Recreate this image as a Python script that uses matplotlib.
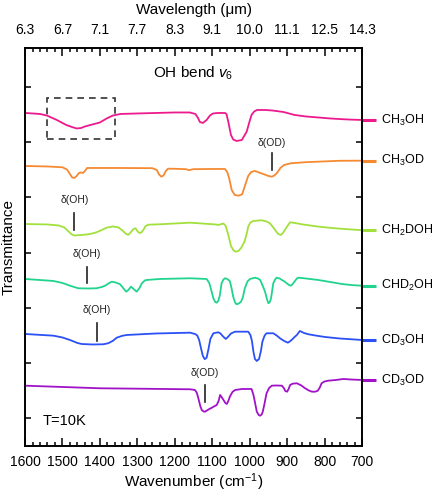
#!/usr/bin/env python3
"""
Methanol isotopologue IR spectra at 10 K, OH bend region.
Stacked transmittance traces, wavenumber on the bottom, wavelength on top.
"""

import numpy as np
import matplotlib
matplotlib.use("Agg")
import matplotlib.pyplot as plt
import matplotlib.transforms as mtransforms
from matplotlib.patches import Rectangle

# === STYLE ===
plt.rcParams["font.family"] = ["Liberation Sans", "DejaVu Sans"]
plt.rcParams["mathtext.fontset"] = "custom"
plt.rcParams["mathtext.rm"] = "Liberation Sans"
plt.rcParams["mathtext.it"] = "Liberation Sans:italic"

# === DATA (transmittance in arbitrary units, traces already offset) ===
ch3oh_wn = [1600, 1560, 1542, 1515, 1490, 1475, 1462, 1450, 1440, 1420, 1400, 1382,
            1365, 1345, 1300, 1250, 1200, 1160, 1145, 1138, 1133, 1125, 1115, 1106,
            1098, 1085, 1066, 1062, 1057, 1050, 1044, 1035, 1021, 1008, 1000, 995,
            988, 980, 960, 940, 910, 880, 850, 817, 785, 754, 725, 700]
ch3oh_t = [333, 332, 330.5, 326, 321, 319, 317.5, 318, 319.5, 321.5, 323.5, 327.5,
           330.5, 332, 332.5, 333, 333.5, 333.5, 332, 328, 324, 323, 326, 330.5,
           332.5, 333, 333, 332, 324, 311, 306.5, 305, 306, 314.3, 325, 331,
           334.5, 336, 336, 335.5, 334, 331, 329.5, 328.5, 327.5, 326.8, 326.3, 326]

ch3od_wn = [1600, 1540, 1500, 1488, 1480, 1474, 1468, 1462, 1456, 1450, 1445, 1440,
            1434, 1420, 1350, 1260, 1248, 1242, 1236, 1230, 1224, 1218, 1200, 1170,
            1162, 1157, 1150, 1100, 1066, 1060, 1055, 1048, 1040, 1030, 1020, 1012,
            1004, 996, 986, 975, 964, 950, 941, 934, 926, 918, 908, 890, 850, 817,
            760, 700]
ch3od_t = [280, 279.5, 278.7, 276.5, 272, 268.5, 268, 270, 273, 273.5, 273, 275,
           278, 278, 278, 277.8, 276, 271.5, 269.3, 270.5, 275, 277.3, 277.2, 276.8,
           275.8, 276.3, 276.8, 277, 277, 274, 268, 256, 251, 250.3, 251.7, 261,
           270, 274, 275, 273.5, 272, 270, 269.3, 270.5, 273.5, 278, 281, 282.7,
           283.8, 284.3, 285.2, 285.3]

ch2doh_wn = [1600, 1540, 1510, 1495, 1485, 1475, 1468, 1450, 1435, 1420, 1409, 1395,
             1382, 1365, 1350, 1340, 1330, 1324, 1318, 1310, 1305, 1300, 1295, 1290,
             1284, 1278, 1270, 1239, 1159, 1110, 1090, 1084, 1070, 1064, 1057, 1050,
             1043, 1037, 1030, 1022, 1014, 1008, 1004, 998, 990, 968, 955, 946, 938,
             930, 924, 917, 911, 906, 900, 892, 880, 861, 820, 772, 740, 700]
ch2doh_t = [222, 221.5, 220.5, 218.5, 215, 211.5, 210.5, 211, 211.5, 212.5, 213.7, 216,
            218.3, 219.5, 218.5, 215.5, 212, 211.2, 213.5, 217, 217.7, 215, 213, 213.3,
            216, 220, 221.3, 221.7, 223.3, 222, 221.5, 221, 222.5, 220, 211, 200,
            195.5, 194.3, 195, 198.5, 204.3, 212, 219.3, 223.5, 225, 225.7, 224.5, 222.7,
            219, 215, 212, 211, 213, 216, 219.5, 223.7, 223, 221.7, 219.5, 217.7,
            216.8, 215.8]

chd2oh_wn = [1600, 1524, 1500, 1480, 1458, 1430, 1409, 1395, 1386, 1375, 1368, 1358,
             1346, 1338, 1330, 1324, 1317, 1310, 1302, 1295, 1288, 1280, 1275, 1240,
             1159, 1115, 1108, 1102, 1097, 1092, 1088, 1084, 1080, 1075, 1070, 1066,
             1060, 1053, 1048, 1044, 1039, 1035, 1029, 1023, 1018, 1013, 1006, 999,
             986, 978, 972, 965, 959, 954, 950, 946, 943, 937, 932, 928, 920, 914,
             907, 901, 895, 890, 885, 879, 874, 870, 850, 817, 785, 754, 730, 700]
chd2oh_t = [167, 165, 163, 160.3, 157.7, 157.5, 157.7, 159, 160.3, 163, 164.3, 163.5,
            161.7, 158, 154.3, 156, 159.3, 157, 154.3, 157.5, 162.7, 165.5, 166, 167,
            167.7, 167, 163, 155, 147.7, 144, 143.3, 145, 150, 162.7, 166.5, 167.7,
            167, 165, 157, 149.3, 143.5, 141.7, 142.5, 144.3, 149, 157.7, 164.5, 167,
            168.3, 167.5, 166, 160, 154.3, 147, 142.7, 144, 147.7, 162.7, 166.5, 168.3,
            167.5, 166, 164.5, 162.7, 161, 160.3, 162, 165, 167.5, 168.3, 167.5, 166,
            164, 162, 161, 160.2]

cd3oh_wn = [1600, 1524, 1500, 1480, 1460, 1449, 1420, 1391, 1378, 1366, 1355, 1340,
            1328, 1250, 1159, 1146, 1140, 1135, 1130, 1125, 1120, 1115, 1110, 1105,
            1097, 1084, 1078, 1073, 1064, 1058, 1050, 1039, 1004, 998, 994, 990, 986,
            981, 975, 970, 966, 960, 955, 937, 928, 919, 908, 898, 893, 888, 880, 874,
            866, 855, 843, 820, 799, 760, 700]
cd3oh_t = [112, 110.3, 108.5, 106, 103, 102, 101.5, 101.7, 102.7, 105, 108.3, 110.2,
           111, 112.5, 113.3, 112, 110.5, 106, 97.7, 90, 86.8, 88.3, 97, 107,
           112.7, 113.7, 112.5, 110.3, 107, 109, 112.5, 114.3, 114.3, 111, 105, 94.3, 87,
           85, 87, 95, 104.3, 110.5, 112.7, 112.7, 110.5, 107.7, 105, 103.3, 104.5, 106,
           109, 111, 115, 113, 111.7, 110.2, 109, 107.5, 106]

cd3od_wn = [1600, 1500, 1400, 1300, 1159, 1146, 1141, 1137, 1132, 1128, 1123, 1119,
            1110, 1101, 1093, 1088, 1083, 1079, 1075, 1070, 1065, 1061, 1057, 1053,
            1046, 1039, 1020, 995, 990, 988, 984, 981, 976, 972, 968, 965, 960, 955,
            948, 941, 930, 914, 908, 905, 900, 896, 892, 885, 874, 862, 852, 842, 834,
            825, 818, 812, 808, 800, 790, 770, 750, 730, 700]
cd3od_t = [60.3, 59, 57.7, 57.3, 56.7, 56, 53, 47.7, 40, 36, 34.5, 34.3,
           36.5, 38.3, 40, 41, 45, 51, 49, 46, 43, 42, 45, 49.3,
           54, 56, 57, 57, 51, 47.7, 40, 34.3, 31, 30.3, 31.5, 34.3, 43, 52.7,
           58, 60.3, 60.5, 60.3, 57.5, 55, 54.3, 57, 61, 62.3, 62.7, 60.5, 57.7, 55.5, 54.3,
           54.3, 55.3, 59, 62.7, 64.5, 65.3, 66, 67, 66.5, 66]

species = ["CH$_3$OH", "CH$_3$OD", "CH$_2$DOH", "CHD$_2$OH", "CD$_3$OH", "CD$_3$OD"]
colors = ["#ec1a8c", "#f58a33", "#a2e03c", "#20d48e", "#2b50f5", "#a012c8"]
traces = [(ch3oh_wn, ch3oh_t), (ch3od_wn, ch3od_t), (ch2doh_wn, ch2doh_t),
          (chd2oh_wn, chd2oh_t), (cd3oh_wn, cd3oh_t), (cd3od_wn, cd3od_t)]

# band markers: label, wavenumber, line bottom, line top, label height
band_labels = ["δ(OD)", "δ(OH)", "δ(OH)", "δ(OH)", "δ(OD)"]
band_wn = [941, 1468, 1435, 1407, 1119]
band_lo = [276, 216, 162.7, 105.3, 44.3]
band_hi = [292.7, 232.7, 179.3, 122.7, 61]
band_text = [302.7, 246, 191.7, 136, 72.7]

# dashed box around the CH3OH OH-bend feature
box_wn = (1542, 1361)
box_t = (307.3, 348.3)

wn_ticks = [1600, 1500, 1400, 1300, 1200, 1100, 1000, 900, 800, 700]
wl_labels = ["6.3", "6.7", "7.1", "7.7", "8.3", "9.1", "10.0", "11.1", "12.5", "14.3"]


def style_axis(ax):
    ax.tick_params(which="both", direction="in", width=1.1)
    ax.tick_params(which="major", length=5.5)
    ax.tick_params(which="minor", length=3)


def main():
    fig = plt.figure(figsize=(4.32, 4.94), dpi=100)
    ax = fig.add_axes([0.0579, 0.0972, 0.7801, 0.8057])

    for (wn, t), c in zip(traces, colors):
        ax.plot(wn, t, color=c, lw=1.3, solid_joinstyle="round")

    ax.set_xlim(1600, 700)
    ax.set_ylim(0, 398)

    # band markers
    for lab, w, lo, hi, ty in zip(band_labels, band_wn, band_lo, band_hi, band_text):
        ax.plot([w, w], [lo, hi], color="#222222", lw=1.2)
        ax.text(w, ty, lab, ha="center", va="center", fontsize=7.5, color="#222222")

    ax.add_patch(Rectangle((box_wn[0], box_t[0]), box_wn[1] - box_wn[0],
                           box_t[1] - box_t[0], fill=False, ec="#333333",
                           lw=1.2, ls=(0, (4, 3))))

    ax.text(1151, 373, "OH bend $\\mathit{v}_{\\mathit{6}}$", ha="center", va="center",
            fontsize=11)
    ax.text(1552, 25, "T=10K", ha="left", va="center", fontsize=10.5)

    # species labels outside right spine
    trans = mtransforms.blended_transform_factory(ax.transAxes, ax.transData)
    for (wn, t), c, name in zip(traces, colors, species):
        ax.plot([1.0, 1.042], [t[-1], t[-1]], color=c, lw=2.2, transform=trans,
                clip_on=False, solid_capstyle="butt")
        ax.text(1.055, t[-1], name, transform=trans, ha="left", va="center",
                fontsize=9)

    # axes styling
    for sp in ax.spines.values():
        sp.set_linewidth(1.2)
    ax.set_xticks(wn_ticks)
    ax.set_xticks(np.arange(700, 1601, 20), minor=True)
    ax.set_yticks(np.arange(28, 360, 55.15))
    ax.set_yticklabels([])
    ax.yaxis.set_ticks_position("both")
    style_axis(ax)
    ax.tick_params(axis="y", which="major", length=4)
    ax.tick_params(axis="x", labelsize=10, pad=6.5)
    ax.set_xlabel("Wavenumber (cm$^{-1}$)", fontsize=11)
    ax.xaxis.set_label_coords(0.5, -0.065)
    ax.set_ylabel("Transmittance", fontsize=11)
    ax.yaxis.set_label_coords(-0.028, 0.5)

    top = ax.twiny()
    top.set_xlim(ax.get_xlim())
    top.set_xticks(wn_ticks)
    top.set_xticklabels(wl_labels)
    top.set_xticks(np.arange(700, 1601, 20), minor=True)
    style_axis(top)
    top.tick_params(axis="x", labelsize=10, pad=8)
    top.set_xlabel("Wavelength (μm)", fontsize=11)
    top.xaxis.set_label_coords(0.5, 1.085)
    for sp in top.spines.values():
        sp.set_linewidth(1.2)

    fig.savefig("out.png", dpi=100)
    plt.close(fig)


if __name__ == "__main__":
    main()
